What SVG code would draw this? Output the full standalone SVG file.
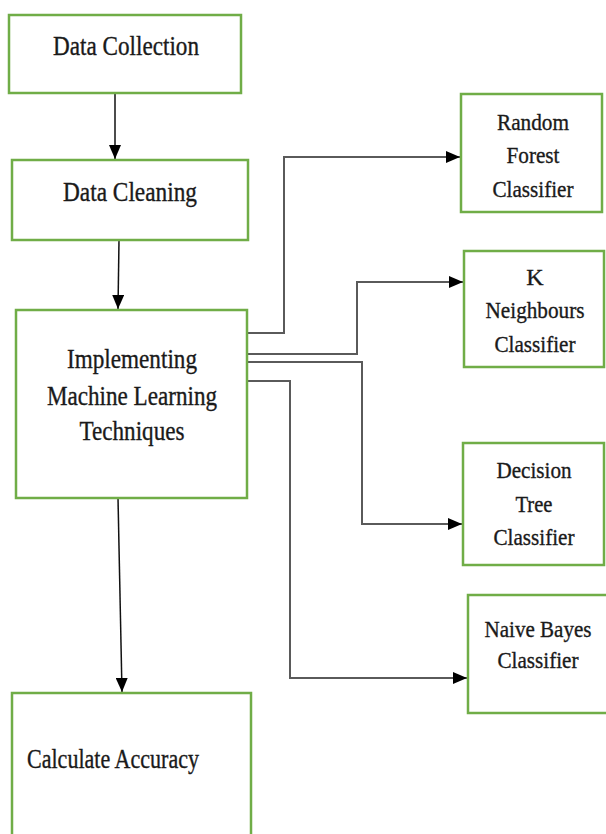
<svg xmlns="http://www.w3.org/2000/svg" width="606" height="834" viewBox="0 0 606 834">
<style>
.box{fill:#fff;stroke:#70ad47;stroke-width:2.5}
.t{font-family:"Liberation Serif","Times New Roman",serif;fill:#1a1a1a;stroke:#1a1a1a;stroke-width:0.35;text-anchor:middle}
.big{font-size:27px}
.sm{font-size:24px}
.v{fill:none;stroke:#111;stroke-width:1.5}
.c{fill:none;stroke:#5a5a5a;stroke-width:2}
</style>
<defs>
<marker id="ah" markerUnits="userSpaceOnUse" markerWidth="14" markerHeight="12" refX="14" refY="6" orient="auto">
<path d="M0,0 L14,6 L0,12 Z" fill="#000"/>
</marker>
</defs>
<rect width="606" height="834" fill="#fff"/>
<g id="connectors">
<line class="v" x1="115" y1="93" x2="115" y2="159" marker-end="url(#ah)"/>
<line class="v" x1="119" y1="240" x2="118" y2="309" marker-end="url(#ah)"/>
<line class="v" x1="118" y1="498" x2="122" y2="692" marker-end="url(#ah)"/>
<polyline class="c" points="247,333 284,333 284,157 460,157" marker-end="url(#ah)"/>
<polyline class="c" points="246,354 357,354 357,282 463,282" marker-end="url(#ah)"/>
<polyline class="c" points="247,362 362,362 362,524 462,524" marker-end="url(#ah)"/>
<polyline class="c" points="247,381 290,381 290,678 467,678" marker-end="url(#ah)"/>
</g>
<g id="data-collection">
<rect class="box" x="9" y="15" width="232" height="78"/>
<text class="t big" x="126" y="55" textLength="146" lengthAdjust="spacingAndGlyphs">Data Collection</text>
</g>
<g id="data-cleaning">
<rect class="box" x="12" y="160" width="236" height="80"/>
<text class="t big" x="130" y="201" textLength="134" lengthAdjust="spacingAndGlyphs">Data Cleaning</text>
</g>
<g id="implementing">
<rect class="box" x="16" y="310" width="231" height="188"/>
<text class="t big" x="132" y="368" textLength="130" lengthAdjust="spacingAndGlyphs">Implementing</text>
<text class="t big" x="132" y="405" textLength="170" lengthAdjust="spacingAndGlyphs">Machine Learning</text>
<text class="t big" x="132" y="440" textLength="105" lengthAdjust="spacingAndGlyphs">Techniques</text>
</g>
<g id="calculate-accuracy">
<rect class="box" x="12" y="693" width="239" height="150"/>
<text class="t big" x="113" y="768" textLength="172" lengthAdjust="spacingAndGlyphs">Calculate Accuracy</text>
</g>
<g id="random-forest">
<rect class="box" x="461" y="94" width="141" height="118"/>
<text class="t sm" x="533" y="130" textLength="72" lengthAdjust="spacingAndGlyphs">Random</text>
<text class="t sm" x="533" y="163" textLength="53" lengthAdjust="spacingAndGlyphs">Forest</text>
<text class="t sm" x="533" y="197" textLength="81" lengthAdjust="spacingAndGlyphs">Classifier</text>
</g>
<g id="k-neighbours">
<rect class="box" x="464" y="251" width="140" height="116"/>
<text class="t sm" x="535" y="285">K</text>
<text class="t sm" x="535" y="318" textLength="99" lengthAdjust="spacingAndGlyphs">Neighbours</text>
<text class="t sm" x="535" y="352" textLength="81" lengthAdjust="spacingAndGlyphs">Classifier</text>
</g>
<g id="decision-tree">
<rect class="box" x="463" y="443" width="141" height="122"/>
<text class="t sm" x="534" y="478" textLength="75" lengthAdjust="spacingAndGlyphs">Decision</text>
<text class="t sm" x="534" y="512" textLength="37" lengthAdjust="spacingAndGlyphs">Tree</text>
<text class="t sm" x="534" y="545" textLength="81" lengthAdjust="spacingAndGlyphs">Classifier</text>
</g>
<g id="naive-bayes">
<rect class="box" x="468" y="595" width="142" height="118"/>
<text class="t sm" x="538" y="637" textLength="107" lengthAdjust="spacingAndGlyphs">Naive Bayes</text>
<text class="t sm" x="538" y="668" textLength="81" lengthAdjust="spacingAndGlyphs">Classifier</text>
</g>
</svg>
